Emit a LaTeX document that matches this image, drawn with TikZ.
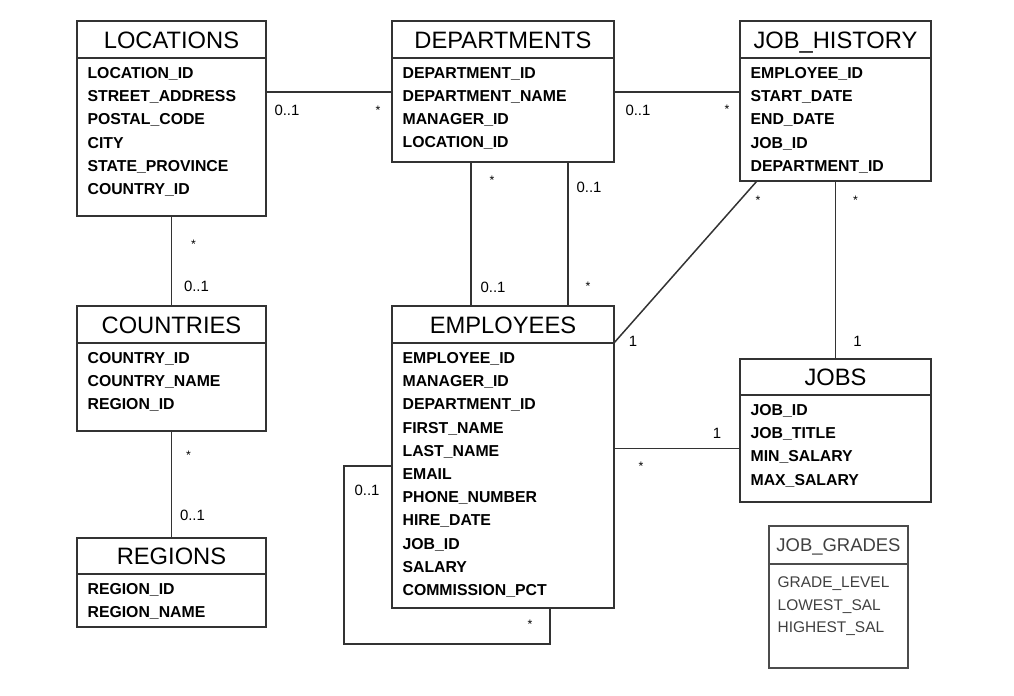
\documentclass[tikz,border=0pt]{standalone}
\usepackage{fontspec}
\setmainfont{Liberation Sans}
\usetikzlibrary{positioning}

\begin{document}
\begin{tikzpicture}[x=0.02cm, y=-0.02cm, line width=0.85pt, draw=black!80,
  head/.style={draw, anchor=north west, inner sep=0pt, outer sep=0pt, minimum height=0.74cm,
    text height=9.7pt, text depth=0pt, font=\fontsize{13.5}{16}\selectfont},
  body/.style={draw, inner sep=0pt, outer sep=0pt},
  fields/.style={anchor=north west, align=left, inner xsep=5.6pt, inner ysep=5pt,
    font=\bfseries\fontsize{9}{13.2}\selectfont},
  card/.style={font=\fontsize{8.5}{10}\selectfont, inner sep=0pt},
  many/.style={font=\fontsize{7}{8}\selectfont, inner sep=0pt, yshift=-1.5pt}]
  \useasboundingbox (0,0) rectangle (1014,696);

  % tables
  \node[head, minimum width=3.78cm] (loc) at (77,21) {LOCATIONS};
  \node[body, minimum width=3.78cm, minimum height=3.16cm, below=0pt of loc] (locb) {};
  \node[fields] (locf) at (locb.north west) {LOCATION\_ID\\STREET\_ADDRESS\\POSTAL\_CODE\\CITY\\STATE\_PROVINCE\\COUNTRY\_ID};

  \node[head, minimum width=4.44cm] (dep) at (392,21) {DEPARTMENTS};
  \node[body, minimum width=4.44cm, minimum height=2.08cm, below=0pt of dep] (depb) {};
  \node[fields] (depf) at (depb.north west) {DEPARTMENT\_ID\\DEPARTMENT\_NAME\\MANAGER\_ID\\LOCATION\_ID};

  \node[head, minimum width=3.82cm] (jh) at (740,21) {JOB\_HISTORY};
  \node[body, minimum width=3.82cm, minimum height=2.46cm, below=0pt of jh] (jhb) {};
  \node[fields] (jhf) at (jhb.north west) {EMPLOYEE\_ID\\START\_DATE\\END\_DATE\\JOB\_ID\\DEPARTMENT\_ID};

  \node[head, minimum width=3.78cm] (cty) at (77,306) {COUNTRIES};
  \node[body, minimum width=3.78cm, minimum height=1.76cm, below=0pt of cty] (ctyb) {};
  \node[fields] (ctyf) at (ctyb.north west) {COUNTRY\_ID\\COUNTRY\_NAME\\REGION\_ID};

  \node[head, minimum width=3.78cm, minimum height=0.72cm] (reg) at (77,538) {REGIONS};
  \node[body, minimum width=3.78cm, minimum height=1.06cm, below=0pt of reg] (regb) {};
  \node[fields] (regf) at (regb.north west) {REGION\_ID\\REGION\_NAME};

  \node[head, minimum width=4.44cm] (emp) at (392,306) {EMPLOYEES};
  \node[body, minimum width=4.44cm, minimum height=5.30cm, below=0pt of emp] (empb) {};
  \node[fields] (empf) at (empb.north west) {EMPLOYEE\_ID\\MANAGER\_ID\\DEPARTMENT\_ID\\FIRST\_NAME\\LAST\_NAME\\EMAIL\\PHONE\_NUMBER\\HIRE\_DATE\\JOB\_ID\\SALARY\\COMMISSION\_PCT};

  \node[head, minimum width=3.82cm, minimum height=0.72cm] (job) at (740,359) {JOBS};
  \node[body, minimum width=3.82cm, minimum height=2.14cm, below=0pt of job] (jobb) {};
  \node[fields] (jobf) at (jobb.north west) {JOB\_ID\\JOB\_TITLE\\MIN\_SALARY\\MAX\_SALARY};

  \node[head, minimum width=2.78cm, minimum height=0.76cm, draw=black!70, text=black!75,
    text height=7.5pt, font=\fontsize{10.5}{12}\selectfont] (grd) at (769,526) {JOB\_GRADES};
  \node[body, minimum width=2.78cm, minimum height=2.08cm, draw=black!70, below=0pt of grd] (grdb) {};
  \node[fields, inner xsep=4.5pt, inner ysep=7pt, text=black!75,
    font=\fontsize{8.8}{12.8}\selectfont] (grdf) at (grdb.north west) {GRADE\_LEVEL\\LOWEST\_SAL\\HIGHEST\_SAL};

  % relations
  \draw (locb.east |- 0,92) -- node[card, at start, shift={(21,18)}] {0..1}
    node[many, at end, shift={(-14,16)}] {*} (depb.west |- 0,92);
  \draw (depb.east |- 0,92) -- node[card, at start, shift={(24,18)}] {0..1}
    node[many, at end, shift={(-13,15)}] {*} (jhb.west |- 0,92);
  \draw (depb.south -| 471,0) -- node[many, at start, shift={(21,16)}] {*}
    node[card, at end, shift={(22,-19)}] {0..1} (emp.north -| 471,0);
  \draw (depb.south -| 568,0) -- node[card, at start, shift={(21,25)}] {0..1}
    node[many, at end, shift={(20,-22)}] {*} (emp.north -| 568,0);
  \draw (jhb.south -| 757,0) -- node[many, at start, shift={(1,17)}] {*}
    node[card, at end, shift={(19,-2)}] {1} (empb.north east);
  \draw (jhb.south) -- node[many, at start, shift={(20,17)}] {*}
    node[card, at end, shift={(22,-18)}] {1} (job.north);
  \draw (empb.east |- jobb.west) -- node[many, at start, shift={(27,15)}] {*}
    node[card, at end, shift={(-23,-15)}] {1} (jobb.west);
  \draw (locb.south) -- node[many, at start, shift={(22,26)}] {*}
    node[card, at end, shift={(25,-20)}] {0..1} (cty.north);
  \draw (ctyb.south) -- node[many, at start, shift={(17,22)}] {*}
    node[card, at end, shift={(21,-23)}] {0..1} (reg.north);
  \draw (empb.west |- 0,466) -- node[card, at start, shift={(-25,24)}] {0..1} (344,466)
    -- (344,644) -- (550,644)
    -- node[many, at end, shift={(-20,14)}] {*} (empb.south -| 550,0);
\end{tikzpicture}
\end{document}
